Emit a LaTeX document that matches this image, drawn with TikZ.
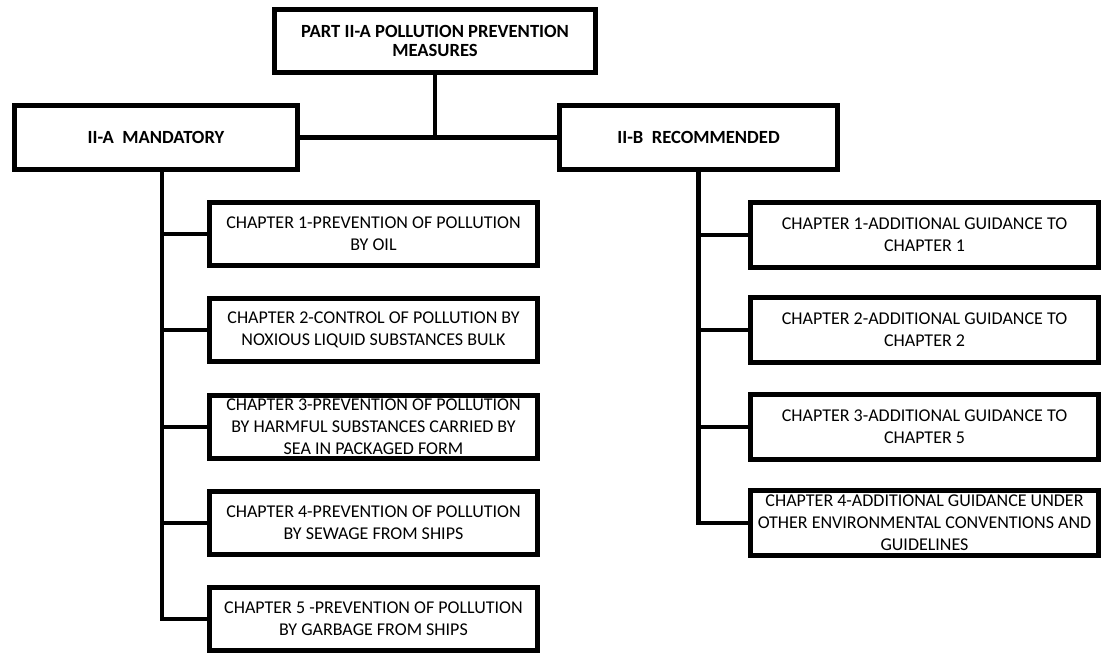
\documentclass[tikz,border=0pt]{standalone}
\usepackage{fontspec}
\setmainfont{Carlito}
\begin{document}
\begin{tikzpicture}[x=1pt,y=-1pt,
  box/.style={draw=black,line width=4.8pt,rectangle,inner sep=0pt,align=center,font=\fontsize{18}{22}\selectfont},
  headbox/.style={box,font=\fontsize{18.6}{19}\selectfont\bfseries},
  lchap/.style={box,minimum width=328.5pt,minimum height=63.5pt},
  rchap/.style={box,minimum width=348.5pt,minimum height=65.5pt},
  conn/.style={draw=black,line width=4.8pt}]
\useasboundingbox (0,0) rectangle (1103,654);
\node[headbox,minimum width=321.5pt,minimum height=63.5pt] (top) at (435,41) {PART II-A POLLUTION PREVENTION\\MEASURES};
\node[headbox,minimum width=283.5pt,minimum height=64.5pt] (mand) at (156,137.5) {II-A\ \ MANDATORY};
\node[headbox,minimum width=278.5pt,minimum height=64.5pt] (rec) at (698.5,137.5) {II-B\ \ RECOMMENDED};
\node[lchap] (l1) at (373.5,234) {CHAPTER 1-PREVENTION OF POLLUTION\\BY OIL};
\node[lchap] (l2) at (373.5,330) {CHAPTER 2-CONTROL OF POLLUTION BY\\NOXIOUS LIQUID SUBSTANCES BULK};
\node[lchap] (l3) at (373.5,427) {CHAPTER 3-PREVENTION OF POLLUTION\\BY HARMFUL SUBSTANCES CARRIED BY\\SEA IN PACKAGED FORM};
\node[lchap] (l4) at (373.5,523) {CHAPTER 4-PREVENTION OF POLLUTION\\BY SEWAGE FROM SHIPS};
\node[lchap] (l5) at (373.5,619) {CHAPTER 5 -PREVENTION OF POLLUTION\\BY GARBAGE FROM SHIPS};
\node[rchap] (r1) at (924.5,235) {CHAPTER 1-ADDITIONAL GUIDANCE TO\\CHAPTER 1};
\node[rchap] (r2) at (924.5,330) {CHAPTER 2-ADDITIONAL GUIDANCE TO\\CHAPTER 2};
\node[rchap] (r3) at (924.5,427) {CHAPTER 3-ADDITIONAL GUIDANCE TO\\CHAPTER 5};
\node[rchap] (r4) at (924.5,523) {\makebox[330pt]{CHAPTER 4-ADDITIONAL GUIDANCE UNDER}\\\makebox[330pt]{OTHER ENVIRONMENTAL CONVENTIONS AND}\\GUIDELINES};
\coordinate (lv) at (162,0);
\path[conn] (mand.east) -- (rec.west);
\path[conn] (top.south) -- (top.south |- mand.east);
\path[conn] (mand.south -| lv) -- (lv |- l5.west) -- (l5.west);
\foreach \n in {l1,l2,l3,l4} \path[conn] (lv |- \n.west) -- (\n.west);
\path[conn] (rec.south) -- (rec.south |- r4.west) -- (r4.west);
\foreach \n in {r1,r2,r3} \path[conn] (rec.south |- \n.west) -- (\n.west);
\end{tikzpicture}
\end{document}
